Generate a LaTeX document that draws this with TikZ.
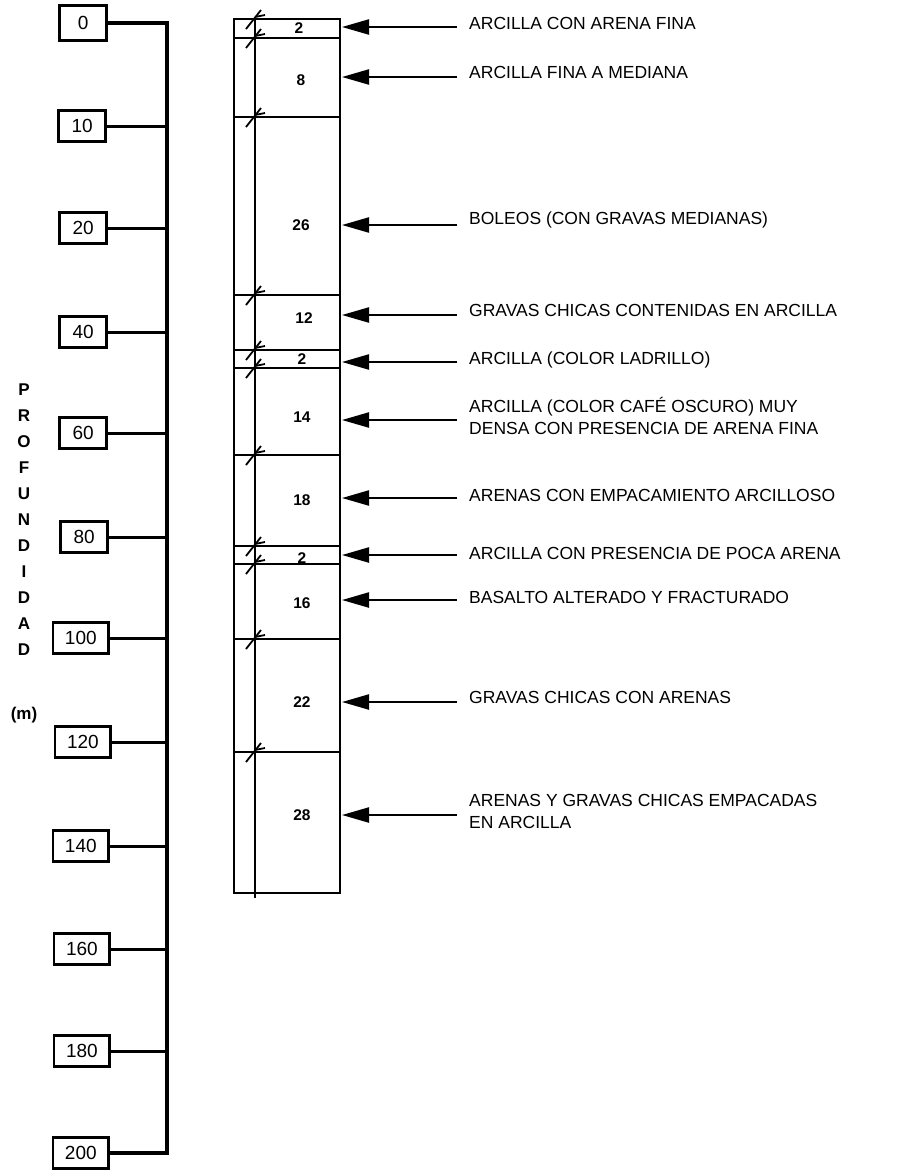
\documentclass[tikz,border=0pt]{standalone}
\usepackage{fontspec}
\setmainfont{Liberation Sans}
\usetikzlibrary{arrows.meta}
\begin{document}
\begin{tikzpicture}[x=1pt,y=-1pt,
  tickbox/.style={draw,line width=2.6pt,minimum width=47pt,minimum height=31pt,inner xsep=12pt,inner ysep=0pt,font=\fontsize{19}{19}\selectfont,anchor=east},
  tickline/.style={line width=3pt},
  spine/.style={line width=3.5pt},
  col/.style={line width=1.8pt},
  slashmark/.style={line width=1.8pt},
  lnum/.style={font=\bfseries\fontsize{15.5}{15.5}\selectfont,inner sep=0pt},
  lab/.style={anchor=west,align=left,font=\fontsize{17.5}{22}\selectfont,inner sep=0pt},
  arr/.style={line width=2.2pt,-{Triangle[length=27pt,width=15pt]}},
  letter/.style={font=\bfseries\fontsize{17}{17}\selectfont,inner sep=0pt}
]
\useasboundingbox (0,0) rectangle (900,1171);

% ---- depth scale ----
\coordinate (sp) at (167,23);
\coordinate (spb) at (167,1153);
\node[tickbox,minimum height=35pt] (b0) at (108,23) {0};
\node[tickbox] (b10) at (107,126) {10};
\node[tickbox] (b20) at (108,228) {20};
\node[tickbox] (b40) at (108,332) {40};
\node[tickbox] (b60) at (108,433) {60};
\node[tickbox] (b80) at (109,537) {80};
\node[tickbox] (b100) at (110,638) {100};
\node[tickbox] (b120) at (112,742) {120};
\node[tickbox] (b140) at (110,846) {140};
\node[tickbox] (b160) at (111,949) {160};
\node[tickbox] (b180) at (111,1051) {180};
\node[tickbox] (b200) at (110,1153) {200};
\draw[spine,line join=miter] (b0.east) -- (sp) -- (spb) -- (b200.east);
\foreach \b in {b10,b20,b40,b60,b80,b100,b120,b140,b160,b180}
  \draw[tickline] (\b.east) -- (\b.east -| sp);

% ---- PROFUNDIDAD (m) ----
\foreach \ch [count=\i from 0] in {P,R,O,F,U,N,D,I,D,A,D}
  \node[letter] (p\i) at (24,390+26*\i) {\ch};
\node[letter] (unit) at (24,715) {(m)};

% ---- column ----
\draw[col] (234,19) rectangle (340,893);
\draw[col] (255,19) -- (255,898);
\foreach \y in {38,117,295,350,368,455,546,564,639,752}
  \draw[col] (234,\y) -- (340,\y);
\foreach \y in {19,38,117,295,350,368,455,546,564,639,752}{
  \draw[slashmark] (246,\y+10) -- (261,\y-9);
  \draw[slashmark] (255,\y-2) -- (265,\y-4);
}

% ---- layer thicknesses ----
\node[lnum] (n1) at (299,28) {2};
\node[lnum] (n2) at (301,80) {8};
\node[lnum] (n3) at (301,225) {26};
\node[lnum] (n4) at (304,318) {12};
\node[lnum] (n5) at (302,359) {2};
\node[lnum] (n6) at (302,417) {14};
\node[lnum] (n7) at (302,500) {18};
\node[lnum] (n8) at (302,558) {2};
\node[lnum] (n9) at (302,603) {16};
\node[lnum] (n10) at (302,702) {22};
\node[lnum] (n11) at (302,815) {28};

% ---- labels and arrows ----
\foreach \k/\ya/\yt/\t in {
  1/27/23/{ARCILLA CON ARENA FINA},
  2/77/72/{ARCILLA FINA A MEDIANA},
  3/225/220/{BOLEOS (CON GRAVAS MEDIANAS)},
  4/315/310/{GRAVAS CHICAS CONTENIDAS EN ARCILLA},
  5/362/360/{ARCILLA (COLOR LADRILLO)},
  6/420/416/{ARCILLA (COLOR CAFÉ OSCURO) MUY\\DENSA CON PRESENCIA DE ARENA FINA},
  7/498/495/{ARENAS CON EMPACAMIENTO ARCILLOSO},
  8/555/553/{ARCILLA CON PRESENCIA DE POCA ARENA},
  9/600/597/{BASALTO ALTERADO Y FRACTURADO},
  10/702/697/{GRAVAS CHICAS CON ARENAS},
  11/815/811/{ARENAS Y GRAVAS CHICAS EMPACADAS\\EN ARCILLA}}{
  \node[lab] (l\k) at (469,\yt) {\t};
  \coordinate (s\k) at (457,\ya);
  \coordinate (e\k) at (342,\ya);
  \draw[arr] (s\k) -- (e\k);
}
\end{tikzpicture}
\end{document}
